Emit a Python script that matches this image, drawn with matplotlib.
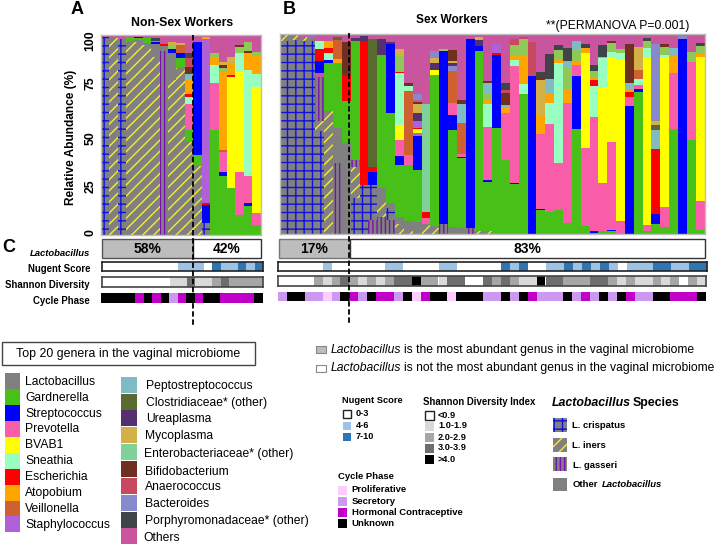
import matplotlib
matplotlib.use("Agg")
from matplotlib import pyplot as plt
from matplotlib.patches import Rectangle
import numpy as np

plt.rcParams['font.family'] = ['Liberation Sans', 'DejaVu Sans']

W, H = 716, 550

# colours of the genera, the species hatches are below
TAXA = {
    'La': '#808080', 'Ga': '#47C017', 'St': '#0000FF', 'Pr': '#F95CA8', 'Ye': '#FFFF00',
    'Sn': '#99FFC0', 'Es': '#FF0000', 'At': '#FFA500', 'Ve': '#CF6030', 'Sf': '#B060D8',
    'Pe': '#80BAC4', 'Cl': '#5A6B30', 'Ur': '#553070', 'My': '#D4B048', 'En': '#80D09A',
    'Bi': '#703020', 'An': '#C84860', 'Ba': '#8888CC', 'Po': '#404448', 'Ot': '#C8559E',
    'Lg': '#90C858',
}
# face, line colour, hatch, hatch line width
HATCH = {
    'Cr': ('#808080', '#1010E0', '++', 0.7),
    'In': ('#808080', '#F8EC30', '///', 1.9),
    'Gs': ('#808080', '#7B10B0', '||||', 1.5),
}

# top of each segment in %, bottom to top
BARS_A = [
    [('Cr', 99), ('Ot', 100)],
    [('In', 98.3), ('Ot', 100)],
    [('Cr', 98), ('Ot', 100)],
    [('In', 97), ('Ga', 99), ('Ot', 100)],
    [('In', 96.7), ('La', 97.5), ('Ga', 98.3), ('St', 99.2), ('Ot', 100)],
    [('In', 95), ('La', 96.2), ('Ga', 98.3), ('Ot', 100)],
    [('In', 89.2), ('La', 95.3), ('St', 96.7), ('Ga', 97.2), ('Po', 98.3), ('Ot', 100)],
    [('Gs', 92), ('La', 94.7), ('Es', 95.5), ('Ot', 100)],
    [('In', 77.5), ('La', 90.8), ('St', 92.8), ('Lg', 95), ('My', 96.7), ('Ot', 100)],
    [('In', 83.3), ('La', 84), ('Ga', 88.3), ('St', 90.8), ('Ve', 95), ('My', 95.8), ('Ot', 100)],
    [('In', 46.7), ('Ga', 52.5), ('Pr', 65.5), ('Sn', 69.2), ('Es', 70.3), ('At', 78), ('Pe', 80.5),
     ('Bi', 84), ('An', 88.3), ('Po', 91.2), ('Ot', 100)],
    [('In', 34.7), ('Ga', 40), ('St', 96.7), ('Ot', 100)],
    [('Cr', 5.8), ('St', 15), ('Es', 15.8), ('Sf', 97.8), ('At', 98.8), ('Ot', 100)],
    [('Ga', 52.5), ('Pr', 75.8), ('Sn', 85), ('At', 88.8), ('Lg', 91.2), ('Ot', 100)],
    [('Ga', 29.7), ('St', 31.7), ('Pr', 41.7), ('Ve', 42.5), ('At', 81.7), ('Lg', 83.3), ('Bi', 85),
     ('My', 86.7), ('Ot', 100)],
    [('Ga', 23.3), ('Ye', 78.8), ('Es', 80), ('At', 85.3), ('My', 88.8), ('Ot', 100)],
    [('Ga', 10), ('Pr', 31.3), ('Ye', 81.7), ('Sn', 90.8), ('Lg', 94.2), ('Bi', 95), ('Ot', 100)],
    [('Ga', 14.5), ('St', 16.2), ('Pr', 29.7), ('Sn', 82.5), ('At', 91.2), ('Bi', 92), ('Lg', 96.3), ('Ot', 100)],
    [('Ga', 5), ('Pr', 10.8), ('Ye', 73.8), ('Sn', 80.5), ('At', 89.5), ('Lg', 91.7), ('Ot', 100)],
]

BARS_B = [
    [('Cr', 96.7), ('In', 99.5), ('Ot', 100)],
    [('Cr', 97), ('In', 99.5), ('Ot', 100)],
    [('Cr', 96.7), ('In', 98.3), ('Ot', 100)],
    [('Cr', 96.7), ('La', 98.2), ('Sf', 99), ('Ot', 100)],
    [('Cr', 51.7), ('In', 56.7), ('Gs', 78.4), ('Ot', 80.7), ('St', 86.7), ('Es', 92.5), ('Sn', 96.5), ('Ot', 100)],
    [('In', 61.6), ('Ga', 85.4), ('St', 87), ('Sn', 90.7), ('Es', 92.8), ('At', 96.5), ('Ot', 100)],
    [('Gs', 35.4), ('La', 52.9), ('Ga', 85.4), ('At', 87.4), ('Ve', 97), ('Cl', 98.3), ('Ot', 100)],
    [('La', 45.4), ('Ga', 66.6), ('Es', 79.5), ('Bi', 96.2), ('Ot', 100)],
    [('Cr', 18), ('In', 33.4), ('Gs', 37.1), ('Ga', 96.5), ('Ur', 97.8), ('Ot', 100)],
    [('Cr', 24.6), ('Es', 96.5), ('Ur', 99), ('Ot', 100)],
    [('Gs', 7.2), ('Cr', 24.6), ('St', 30.8), ('Es', 33.3), ('Cl', 97.3), ('Ot', 100)],
    [('Gs', 8.5), ('In', 16.3), ('La', 23), ('Ga', 89.5), ('Ur', 97.3), ('Ot', 100)],
    [('Gs', 7.2), ('Cr', 13), ('La', 15.5), ('Ga', 60.7), ('St', 94.8), ('Ur', 96.2), ('Ot', 100)],
    [('In', 5.2), ('La', 8.5), ('Ga', 34.3), ('St', 38.8), ('Pr', 47.1), ('Ye', 54.6), ('Sn', 80.4), ('Es', 81.2),
     ('Lg', 89), ('My', 92.3), ('Ot', 100)],
    [('In', 1.3), ('La', 6.3), ('Ga', 34.6), ('Pr', 39.6), ('Ve', 71.7), ('Sn', 74), ('Bi', 75.7), ('Ot', 100)],
    [('La', 5.8), ('Ga', 32.1), ('St', 48.8), ('Sf', 50.4), ('Ye', 52.4), ('Es', 52.9), ('Sf', 56.7), ('Ur', 60.4),
     ('My', 65.1), ('Bi', 66.2), ('Ot', 67), ('Ba', 69.9), ('Ot', 100)],
    [('In', 5.2), ('Pr', 8), ('Es', 10.8), ('En', 65.1), ('Ot', 100)],
    [('In', 3), ('La', 3.8), ('Ga', 79.5), ('Ye', 82), ('Ur', 85.7), ('My', 87.9), ('Ba', 91.5), ('Ot', 100)],
    [('Gs', 5.2), ('St', 91.5), ('Lg', 92.3), ('Ot', 100)],
    [('La', 3.3), ('Ga', 52.1), ('St', 59.6), ('Pr', 65.7), ('Ve', 81.5), ('Ba', 84), ('Ur', 85.4), ('My', 86.5),
     ('Bi', 92), ('Ot', 100)],
    [('La', 3), ('Ga', 37.9), ('St', 38.4), ('Pr', 40.1), ('Ve', 55.4), ('Pe', 65.1), ('Bi', 67), ('Ot', 100)],
    [('Gs', 3), ('St', 97.3), ('Ot', 100)],
    [('In', 1.3), ('Ga', 91.5), ('St', 94.2), ('Ur', 97), ('My', 98.3), ('Ot', 100)],
    [('In', 1.3), ('Ga', 25.8), ('St', 27.1), ('Pr', 53.7), ('Sn', 65.1), ('At', 67), ('Lg', 70.4), ('Pe', 75.4),
     ('Bi', 76.7), ('Ot', 100)],
    [('Ga', 53.2), ('St', 89.5), ('Es', 90.3), ('Sf', 94.8), ('Ot', 100)],
    [('Ga', 37.1), ('Pr', 60.4), ('At', 63.7), ('Pe', 64.6), ('Bi', 70.4), ('An', 72), ('Po', 75.4), ('Ot', 100)],
    [('Ga', 25), ('St', 25.5), ('Pr', 84), ('Sn', 87), ('At', 89), ('Lg', 94.5), ('An', 97.3), ('Ot', 100)],
    [('Ga', 69.9), ('Sn', 75), ('At', 89), ('Lg', 97.3), ('An', 98.7), ('Ot', 100)],
    [('St', 79), ('An', 96.2), ('Ot', 100)],
    [('Ga', 11.8), ('St', 12.5), ('Pr', 50), ('At', 59.2), ('My', 77), ('Bi', 78.4), ('Po', 81.2), ('Ot', 100)],
    [('Ga', 11), ('Pr', 55), ('Sn', 65.4), ('At', 70.4), ('Pe', 77.4), ('Po', 89.9), ('Ot', 100)],
    [('Ga', 11.8), ('Pr', 35.4), ('Sn', 85.7), ('At', 87), ('Lg', 92), ('Po', 94.5), ('Ot', 100)],
    [('Ga', 5.5), ('Pr', 65.7), ('At', 72), ('Lg', 82.9), ('Pe', 86.7), ('Po', 92.8), ('Ot', 100)],
    [('Ga', 52.4), ('St', 79), ('Pr', 84.5), ('At', 86.2), ('Lg', 92), ('Pe', 96.7), ('Ot', 100)],
    [('Ga', 4.2), ('Pr', 42.9), ('Ye', 90.7), ('At', 93.2), ('Po', 95), ('Ot', 100)],
    [('Ga', 0.5), ('St', 1.7), ('Pr', 58.7), ('Sn', 74), ('Es', 77), ('At', 77.9), ('Lg', 81.5), ('Po', 84.5), ('Ot', 100)],
    [('Ga', 1.3), ('Pr', 25.5), ('Ye', 73.4), ('Sn', 87.9), ('At', 88.7), ('Po', 94.5), ('Ot', 100)],
    [('Ga', 1.3), ('St', 1.8), ('Pr', 45.9), ('Ye', 88.4), ('Sn', 91.2), ('Lg', 95.3), ('Bi', 96.5), ('Ot', 100)],
    [('Pr', 6.3), ('Ye', 87), ('Sn', 90.3), ('Lg', 92.5), ('Ot', 100)],
    [('St', 64.1), ('Pr', 68.7), ('Es', 71.2), ('At', 72), ('Pe', 75.4), ('Bi', 95), ('Ot', 100)],
    [('Ga', 71.2), ('St', 72.5), ('Pr', 74.5), ('Sn', 77.4), ('Ve', 82), ('My', 93.7), ('Ot', 100)],
    [('Ga', 1.3), ('Pr', 4.3), ('Ye', 88.2), ('Sn', 92.8), ('Lg', 96.5), ('Po', 98.2), ('Ot', 100)],
    [('Ga', 5.2), ('St', 10.1), ('Es', 42.6), ('Pe', 52.1), ('Cl', 54.6), ('My', 56.7), ('Ba', 95), ('Ot', 100)],
    [('Ga', 3.5), ('Pr', 13.3), ('Ye', 88.4), ('Sn', 89.5), ('Lg', 93.3), ('Bi', 94.8), ('Ot', 100)],
    [('Ga', 52.4), ('Pr', 80.7), ('At', 89.5), ('Pe', 93.2), ('Ot', 100)],
    [('St', 97.5), ('Ba', 99), ('Ot', 100)],
    [('Ga', 47.1), ('Pr', 85.9), ('Lg', 91.2), ('Ot', 100)],
    [('Ga', 2.2), ('Pr', 16.3), ('Ye', 88.7), ('At', 90.3), ('Lg', 94), ('Po', 95.7), ('Ot', 100)],
]

# strips under the bars: (category, number of women)
NUGENT_A = [(0, 9), (1, 3), (0, 1), (2, 1), (1, 2), (2, 1), (1, 1), (2, 1)]
SHANNON_A = [(0, 8), (1, 2), (3, 1), (1, 2), (2, 1), (3, 1), (2, 4)]
CYCLE_A = [(3, 4), (2, 1), (3, 1), (2, 1), (3, 1), (1, 1), (2, 1), (3, 1), (2, 1), (3, 2), (2, 4), (3, 1)]
NUGENT_B = [(0, 5), (1, 1), (0, 6), (1, 2), (0, 4), (1, 2), (0, 5), (2, 1), (1, 1), (2, 1), (0, 2), (1, 2),
            (2, 1), (1, 1), (2, 1), (1, 1), (2, 1), (1, 1), (0, 1), (1, 3), (2, 2), (1, 2), (2, 2)]
SHANNON_B = [(0, 4), (2, 1), (1, 1), (2, 1), (3, 1), (2, 1), (1, 1), (2, 1), (1, 1), (2, 1), (3, 2), (4, 1),
             (2, 2), (1, 1), (3, 2), (0, 2), (3, 1), (2, 1), (3, 1), (2, 1), (1, 2), (4, 1), (3, 2), (2, 3),
             (3, 2), (2, 1), (1, 1), (2, 1), (1, 2), (2, 1), (1, 1), (2, 1), (0, 1), (2, 1), (1, 1)]
CYCLE_B = [(1, 1), (3, 2), (1, 2), (0, 1), (1, 1), (3, 1), (2, 1), (1, 1), (3, 1), (2, 2), (1, 1), (3, 1),
           (0, 1), (2, 1), (3, 2), (0, 1), (3, 3), (1, 2), (3, 1), (1, 1), (3, 1), (2, 1), (1, 3), (3, 1),
           (1, 1), (2, 1), (1, 1), (3, 1), (1, 1), (3, 1), (2, 1), (1, 2), (3, 2), (2, 3), (3, 1)]

NUGENT_COLORS = ['#FFFFFF', '#9DC3E6', '#2E75B6']
SHANNON_COLORS = ['#FFFFFF', '#D9D9D9', '#A6A6A6', '#6E6E6E', '#000000']
CYCLE_COLORS = ['#FFCCFF', '#CC99F0', '#C000C8', '#000000']

GENERA_1 = ['Lactobacillus', 'Gardnerella', 'Streptococcus', 'Prevotella', 'BVAB1',
            'Sneathia', 'Escherichia', 'Atopobium', 'Veillonella', 'Staphylococcus']
GENERA_1_KEYS = ['La', 'Ga', 'St', 'Pr', 'Ye', 'Sn', 'Es', 'At', 'Ve', 'Sf']
GENERA_2 = ['Peptostreptococcus', 'Clostridiaceae* (other)', 'Ureaplasma', 'Mycoplasma',
            'Enterobacteriaceae* (other)', 'Bifidobacterium', 'Anaerococcus', 'Bacteroides',
            'Porphyromonadaceae* (other)', 'Others']
GENERA_2_KEYS = ['Pe', 'Cl', 'Ur', 'My', 'En', 'Bi', 'An', 'Ba', 'Po', 'Ot']


# rectangle with its own hatch line width, the rc value is global otherwise
class HatchRect(Rectangle):
    def __init__(self, xy, w, h, key, **kw):
        face, line, hatch, self.hatch_lw = HATCH[key]
        super().__init__(xy, w, h, facecolor=face, edgecolor=line, hatch=hatch, linewidth=0, **kw)

    def draw(self, renderer):
        with matplotlib.rc_context({'hatch.linewidth': self.hatch_lw}):
            super().draw(renderer)


def px_axes(x0, y0, x1, y1):
    return fig.add_axes([x0 / W, 1 - y1 / H, (x1 - x0) / W, (y1 - y0) / H])


def draw_bars(ax, bars):
    for i, bar in enumerate(bars):
        keys = [s[0] for s in bar]
        tops = [s[1] for s in bar]
        bottoms = [0] + tops[:-1]
        for key, b, t in zip(keys, bottoms, tops):
            if key in HATCH:
                ax.add_patch(HatchRect((i, b), 1, t - b, key))
            else:
                ax.bar(i, t - b, bottom=b, width=1, align='edge', color=TAXA[key], linewidth=0)
    ax.set_xlim(0, len(bars))
    ax.set_ylim(0, 100)
    ax.set_xticks([])
    ax.set_yticks([])
    for s in ax.spines.values():
        s.set_color('#bdbdbd')
        s.set_linewidth(1)


def draw_strip(box, runs, colors, frame=None):
    ax = px_axes(*box)
    left = 0
    for cat, n in runs:
        ax.barh(0, n, left=left, height=1, align='edge', color=colors[cat], linewidth=0)
        left += n
    ax.set_xlim(0, left)
    ax.set_ylim(0, 1)
    ax.set_xticks([])
    ax.set_yticks([])
    for s in ax.spines.values():
        s.set_visible(frame is not None)
        if frame is not None:
            s.set_color(frame)
            s.set_linewidth(1.2)


fig = plt.figure(figsize=(W / 100, H / 100), dpi=100)

ax_a = px_axes(100.7, 35, 260.7, 235)
draw_bars(ax_a, BARS_A)
ax_b = px_axes(280, 34, 704.5, 234)
draw_bars(ax_b, BARS_B)

draw_strip((102, 262, 263, 271), NUGENT_A, NUGENT_COLORS, '#222222')
draw_strip((102, 277, 263, 287), SHANNON_A, SHANNON_COLORS, '#444444')
draw_strip((101, 293, 263, 303), CYCLE_A, CYCLE_COLORS)
draw_strip((278, 262, 707, 271), NUGENT_B, NUGENT_COLORS, '#222222')
draw_strip((278, 276, 706, 286), SHANNON_B, SHANNON_COLORS, '#444444')
draw_strip((278, 292, 706, 301), CYCLE_B, CYCLE_COLORS)

# overlay in image pixels for all the text, legends and dashed lines
ov = fig.add_axes([0, 0, 1, 1], zorder=10)
ov.set_xlim(0, W)
ov.set_ylim(H, 0)
ov.axis('off')
ov.patch.set_alpha(0)


def txt(x, y, s, size=8.7, weight='normal', style='normal', ha='left', **kw):
    ov.text(x, y, s, fontsize=size, fontweight=weight, fontstyle=style, ha=ha, va='center',
            color='black', **kw)


def box(x0, y0, x1, y1, face, edge=None, lw=1.0, **kw):
    ov.add_patch(Rectangle((x0, y0), x1 - x0, y1 - y0, facecolor=face,
                           edgecolor=edge if edge else 'none', linewidth=lw if edge else 0, **kw))


# panel letters and titles
txt(71, 10, 'A', 13, 'bold')
txt(283, 10, 'B', 13, 'bold')
txt(2, 247, 'C', 13, 'bold')
txt(182, 23, 'Non-Sex Workers', 8.8, 'bold', ha='center')
txt(452, 20, 'Sex Workers', 8.6, 'bold', ha='center')
txt(546, 26, '**(PERMANOVA P=0.001)', 8.7)
txt(71, 137, 'Relative Abundance (%)', 8.6, 'bold', ha='center', rotation=90)
for tick, y in zip(['0', '25', '50', '75', '100'], [233, 186, 138, 83, 41]):
    txt(90.5, y, tick, 8.8, 'bold', ha='center', rotation=90)

# C rows
box(102, 239, 193, 258, '#BDBDBD', '#555555', 1.0)
box(193, 239, 261, 258, '#FFFFFF', '#333333', 1.0)
box(279, 239, 350, 258, '#BDBDBD', '#777777', 1.0)
box(350, 239, 705, 258, '#FFFFFF', '#333333', 1.0)
txt(148, 249, '58%', 10, 'bold', ha='center')
txt(227, 249, '42%', 10, 'bold', ha='center')
txt(314.5, 249, '17%', 10, 'bold', ha='center')
txt(527, 249, '83%', 10, 'bold', ha='center')
txt(90, 253, 'Lactobacillus', 6.8, 'bold', 'italic', ha='right')
txt(90, 269, 'Nugent Score', 6.9, 'bold', ha='right')
txt(90, 285, 'Shannon Diversity', 6.9, 'bold', ha='right')
txt(90, 301, 'Cycle Phase', 6.9, 'bold', ha='right')

ov.plot([193, 193], [35, 325], color='black', lw=1.3, ls=(0, (3, 1.5)))
ov.plot([349.3, 349.3], [33, 323], color='black', lw=1.3, ls=(0, (3, 1.5)))

# genera legend
box(2, 342, 255, 365, 'white', '#444444', 1.0)
txt(128.5, 353.5, 'Top 20 genera in the vaginal microbiome', 8.9, ha='center')
y1 = [381.7, 398, 414, 429, 445, 461, 477, 493, 509, 525]
for i, (name, key) in enumerate(zip(GENERA_1, GENERA_1_KEYS)):
    box(5, 373.3 + 15.9 * i, 20, 373.3 + 15.9 * (i + 1), TAXA[key])
    txt(25, y1[i], name, 8.7)
x2 = [146, 146, 146, 144.5, 144, 144.5, 144.5, 145, 145, 143.5]
y2 = [386, 402.7, 419, 436, 454, 471.7, 487, 504, 521, 538]
for i, (name, key) in enumerate(zip(GENERA_2, GENERA_2_KEYS)):
    box(121, 376.7 + 16.85 * i, 137, 376.7 + 16.85 * i + 16, TAXA[key])
    txt(x2[i], y2[i], name, 8.7)

# most abundant legend
box(316, 346, 326, 353, '#BDBDBD', '#888888', 0.8)
box(316, 365, 326, 372, '#FFFFFF', '#888888', 0.8)
txt(331, 350, 'Lactobacillus', 8.7, style='italic')
txt(403.5, 350, 'is the most abundant genus in the vaginal microbiome', 8.75)
txt(331, 367.7, 'Lactobacillus', 8.7, style='italic')
txt(403.5, 367.7, 'is not the most abundant genus in the vaginal microbiome', 8.7)

# nugent legend
txt(341.7, 400.7, 'Nugent Score', 6.7, 'bold')
for i, (lab, y0, yt) in enumerate(zip(['0-3', '4-6', '7-10'], [410, 422, 433], [413, 425.7, 436.7])):
    box(343, y0, 351, y0 + 8, NUGENT_COLORS[i], '#222222' if i == 0 else None, 1.0)
    txt(355.7, yt, lab, 6.6, 'bold')

# shannon legend
txt(423, 401.7, 'Shannon Diversity Index', 6.9, 'bold')
shannon_labels = ['<0.9', '1.0-1.9', '2.0-2.9', '3.0-3.9', '>4.0']
for i, (lab, y0, yt) in enumerate(zip(shannon_labels, [411, 422, 433, 444, 455], [415, 426, 437.7, 448, 459])):
    box(425, y0, 434, y0 + 9, SHANNON_COLORS[i], '#222222' if i == 0 else None, 1.0)
    txt(438, yt, lab, 6.6, 'bold')

# cycle legend
txt(338, 476.7, 'Cycle Phase', 6.8, 'bold')
cycle_labels = ['Proliferative', 'Secretory', 'Hormonal Contraceptive', 'Unknown']
for i, (lab, y0, yt) in enumerate(zip(cycle_labels, [486, 497, 508, 519], [490, 501.7, 512.7, 523])):
    box(338, y0, 347, y0 + 9, CYCLE_COLORS[i])
    txt(351.7, yt, lab, 6.8, 'bold')

# species legend
txt(552, 402.7, 'Lactobacillus', 8.9, 'bold', 'italic')
txt(633, 402.7, 'Species', 8.9, 'bold')
for key, y0 in zip(['Cr', 'In', 'Gs'], [418, 438, 457]):
    ov.add_patch(HatchRect((553, y0), 14, 14, key))
box(553, 478, 567, 491, TAXA['La'])
txt(571.7, 425, 'L. crispatus', 6.8, 'bold')
txt(571.7, 446, 'L. iners', 6.8, 'bold')
txt(572.7, 465, 'L. gasseri', 6.8, 'bold')
txt(573, 484.7, 'Other', 6.8, 'bold')
txt(602, 484.7, 'Lactobacillus', 6.8, 'bold', 'italic')

fig.savefig('out.png', dpi=100)
